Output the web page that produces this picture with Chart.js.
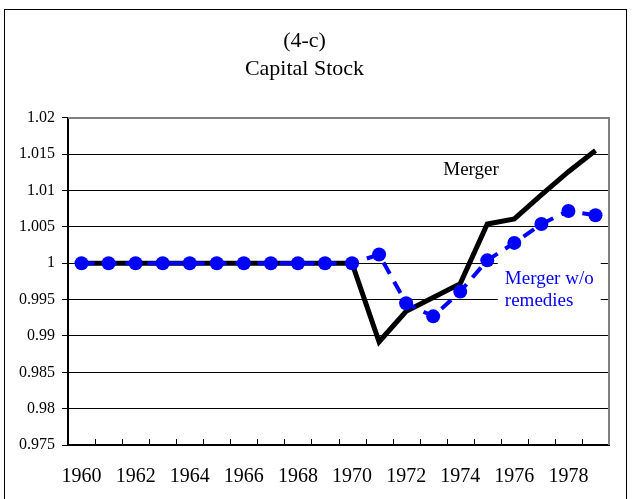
<!DOCTYPE html>
<html>
<head>
<meta charset="utf-8">
<script src="https://cdn.jsdelivr.net/npm/chart.js@4"></script>
<style>
html,body{margin:0;padding:0;background:#fff;}
#wrap{width:633px;height:499px;}
</style>
</head>
<body>
<div id="wrap"><canvas id="c" width="633" height="499"></canvas></div>
<script>
const years = ['1960','1961','1962','1963','1964','1965','1966','1967','1968','1969','1970','1971','1972','1973','1974','1975','1976','1977','1978','1979'];
const merger = [1,1,1,1,1,1,1,1,1,1,1,0.9892,0.9934,0.9953,0.9972,1.0054,1.0061,1.0094,1.0126,1.0155];
const mergerNoRemedies = [1,1,1,1,1,1,1,1,1,1,1,1.0012,0.9945,0.9927,0.9961,1.0004,1.0028,1.0054,1.0072,1.0066];
const titleLines = ['(4-c)','Capital Stock'];
const yTicks = [0.975,0.98,0.985,0.99,0.995,1,1.005,1.01,1.015,1.02];
const yTickLabels = ['0.975','0.98','0.985','0.99','0.995','1','1.005','1.01','1.015','1.02'];

const FONT = "'Liberation Serif', 'Times New Roman', serif";

const decor = {
  id: 'decor',
  beforeDraw(chart) {
    const ctx = chart.ctx;
    ctx.save();
    ctx.fillStyle = '#fff';
    ctx.fillRect(0,0,chart.width,chart.height);
    ctx.strokeStyle = '#000';
    ctx.lineWidth = 1;
    ctx.strokeRect(4.5, 9.5, 622, 520);
    ctx.restore();
  },
  beforeDatasetsDraw(chart) {
    const ctx = chart.ctx;
    const a = chart.chartArea;
    const x = chart.scales.x;
    const y = chart.scales.y;
    ctx.save();
    // white box behind blue label
    ctx.fillStyle = '#fff';
    ctx.fillRect(x.getPixelForValue(15.5) - 3, y.getPixelForValue(1.0006), 103, 50);
    // top and right border (gray)
    ctx.strokeStyle = '#808080';
    ctx.lineWidth = 2;
    ctx.beginPath();
    ctx.moveTo(a.left, a.top); ctx.lineTo(a.right, a.top); ctx.lineTo(a.right, a.bottom);
    ctx.stroke();
    // inward x ticks between categories
    ctx.strokeStyle = '#000';
    ctx.lineWidth = 1;
    ctx.beginPath();
    for (let i = 0; i < years.length - 1; i++) {
      const px = Math.round((x.getPixelForValue(i) + x.getPixelForValue(i+1)) / 2) + 0.5;
      ctx.moveTo(px, a.bottom); ctx.lineTo(px, a.bottom - 6);
    }
    ctx.stroke();
    ctx.restore();
  },
  afterDatasetsDraw(chart) {
    const ctx = chart.ctx;
    const x = chart.scales.x, y = chart.scales.y;
    ctx.save();
    ctx.font = '19px ' + FONT;
    ctx.textBaseline = 'middle';
    ctx.textAlign = 'center';
    ctx.fillStyle = '#000';
    ctx.fillText('Merger', x.getPixelForValue(14.4), y.getPixelForValue(1.0128));
    ctx.textAlign = 'left';
    ctx.fillStyle = '#0000ff';
    ctx.fillText('Merger w/o', x.getPixelForValue(15.65), y.getPixelForValue(0.9979));
    ctx.fillText('remedies', x.getPixelForValue(15.65), y.getPixelForValue(0.9948));
    ctx.restore();
  }
};

new Chart(document.getElementById('c'), {
  type: 'line',
  data: {
    labels: years,
    datasets: [
      {
        label: 'Merger w/o remedies',
        data: mergerNoRemedies,
        borderColor: '#0000ff',
        backgroundColor: '#0000ff',
        borderWidth: 4,
        borderDash: [13, 9],
        pointRadius: 7,
        pointHoverRadius: 7,
        pointBorderWidth: 0,
        tension: 0,
        order: 0
      },
      {
        label: 'Merger',
        data: merger,
        borderColor: '#000',
        borderWidth: 5,
        pointRadius: 0,
        tension: 0,
        order: 1
      }
    ]
  },
  options: {
    responsive: false,
    animation: false,
    events: [],
    layout: { padding: { left: 0, right: 24, top: 0, bottom: 0 } },
    plugins: {
      legend: { display: false },
      tooltip: { enabled: false },
      title: {
        display: true,
        text: titleLines,
        color: '#000',
        font: { family: FONT, size: 22, weight: 'normal', lineHeight: 1.27 },
        padding: { top: 27, bottom: 35 }
      }
    },
    scales: {
      x: {
        type: 'category',
        offset: true,
        grid: { display: false, drawTicks: false },
        border: { display: true, color: '#000', width: 2 },
        ticks: {
          autoSkip: false,
          maxRotation: 0,
          padding: 20,
          color: '#000',
          font: { family: FONT, size: 20 },
          callback: (v, i) => (i % 2 === 0 ? years[i] : '')
        },
        afterFit(s) { s.height = 54; }
      },
      y: {
        min: 0.975,
        max: 1.02,
        afterBuildTicks(s) { s.ticks = yTicks.map(v => ({ value: v })); },
        grid: { color: '#000', lineWidth: 1, tickLength: 6, drawTicks: true },
        border: { display: true, color: '#000', width: 2 },
        ticks: {
          padding: 7,
          color: '#000',
          font: { family: FONT, size: 16 },
          callback: (v, i) => yTickLabels[i]
        },
        afterFit(s) { s.width = 68; }
      }
    }
  },
  plugins: [decor]
});
</script>
</body>
</html>
